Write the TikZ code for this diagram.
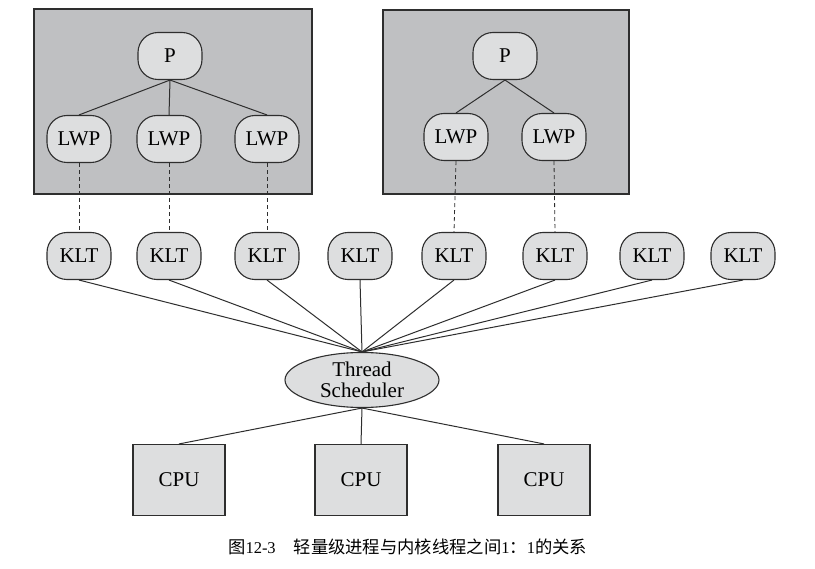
\documentclass[tikz,border=0pt]{standalone}
\usepackage{fontspec}
\setmainfont{Liberation Serif}
\newfontfamily\cjk{Noto Sans CJK SC}
\usetikzlibrary{shapes.geometric}
\definecolor{boxgray}{HTML}{BFC0C2}
\definecolor{nodegray}{HTML}{DDDEDF}
\definecolor{edgegray}{HTML}{2E2E2E}
\tikzset{
  procbox/.style={draw=edgegray, line width=1.1pt, fill=boxgray},
  blob/.style={draw=edgegray, line width=1.1pt, fill=nodegray, rounded corners=20pt,
    minimum width=64pt, minimum height=47pt, inner sep=0pt, font=\fontsize{21}{22}\selectfont},
  sched/.style={draw=edgegray, line width=1.1pt, fill=nodegray, ellipse,
    minimum width=154pt, minimum height=55pt, inner sep=0pt, align=center,
    font=\fontsize{21}{21.5}\selectfont},
  cpubox/.style={draw=edgegray, line width=1.1pt, fill=nodegray,
    minimum width=92pt, minimum height=71pt, inner sep=0pt, font=\fontsize{21}{22}\selectfont},
  link/.style={draw=edgegray, line width=1pt},
  dlink/.style={draw=edgegray, line width=0.8pt, dash pattern=on 4pt off 3pt},
}
\begin{document}
\begin{tikzpicture}[x=1pt, y=-1pt]
\useasboundingbox (0,0) rectangle (815,569);
\fill[white] (0,0) rectangle (815,569);
% process boxes
\path[procbox] (34,9) rectangle (312,194);
\path[procbox] (383,10) rectangle (629,194);
% left process
\node[blob] (p1) at (170,56) {P};
\node[blob] (l1) at (79,139) {LWP};
\node[blob] (l2) at (169,139) {LWP};
\node[blob] (l3) at (267,139) {LWP};
% right process
\node[blob] (p2) at (505,56) {P};
\node[blob] (l4) at (456,137) {LWP};
\node[blob] (l5) at (554,137) {LWP};
% KLTs
\node[blob] (k1) at (79,256) {KLT};
\node[blob] (k2) at (169,256) {KLT};
\node[blob] (k3) at (267,256) {KLT};
\node[blob] (k4) at (360,256) {KLT};
\node[blob] (k5) at (454,256) {KLT};
\node[blob] (k6) at (555,256) {KLT};
\node[blob] (k7) at (652,256) {KLT};
\node[blob] (k8) at (743,256) {KLT};
% scheduler
\node[sched] (ts) at (362,380) {Thread\\Scheduler};
% CPUs
\node[cpubox] (c1) at (179,480) {CPU};
\node[cpubox] (c2) at (361,480) {CPU};
\node[cpubox] (c3) at (544,480) {CPU};
% connectors
\foreach \l in {l1,l2,l3} \draw[link] (p1.south) -- (\l.north);
\foreach \l in {l4,l5} \draw[link] (p2.south) -- (\l.north);
\draw[dlink] (l1.south) -- (k1.north);
\draw[dlink] (l2.south) -- (k2.north);
\draw[dlink] (l3.south) -- (k3.north);
\draw[dlink] (l4.south) -- (k5.north);
\draw[dlink] (l5.south) -- (k6.north);
\foreach \k in {k1,k2,k3,k4,k5,k6,k7,k8} \draw[link] (\k.south) -- (ts.north);
\foreach \c in {c1,c2,c3} \draw[link] (ts.south) -- (\c.north);
% caption
\node[anchor=base west, inner sep=0pt, font=\fontsize{16.5}{18}\selectfont] (cap) at (228,554)
  {{\cjk\fontsize{17.3}{18}\selectfont 图}12-3\hspace{18pt}{\cjk\fontsize{17.3}{18}\selectfont 轻量级进程与内核线程之间}1{\cjk\fontsize{17.3}{18}\selectfont ：}1{\cjk\fontsize{17.3}{18}\selectfont 的关系}};
\end{tikzpicture}
\end{document}
